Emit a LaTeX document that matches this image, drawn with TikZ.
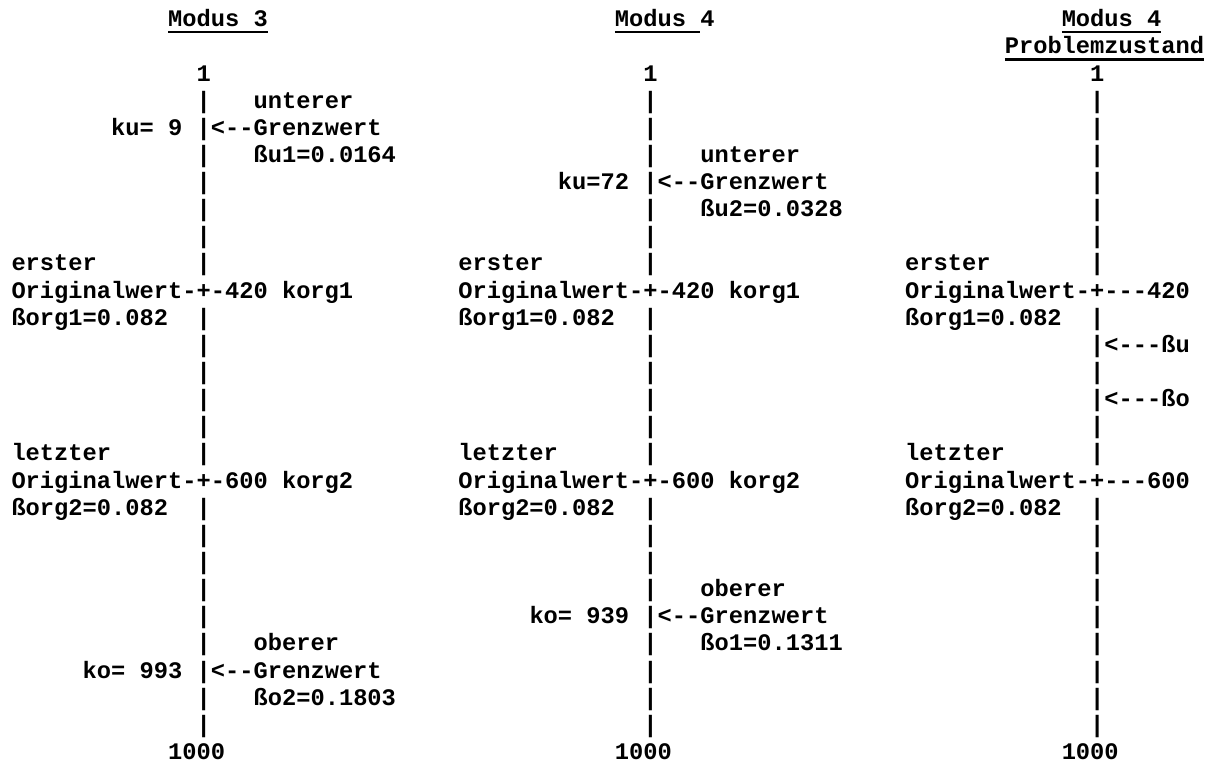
\documentclass[tikz,border=0pt]{standalone}
\usepackage{fontspec}
\setmonofont{Liberation Mono}
\newcommand\cw{14.24}
\newcommand\lh{27.14}
% place a text cell at a character column and text row
\newcommand\cell[4]{\node[txt] (#1) at ({#2*\cw},{81+#3*\lh}) {#4};}
\tikzset{
  txt/.style={font=\ttfamily\bfseries\fontsize{23.73}{27.14}\selectfont,
              inner sep=0pt, outer sep=0pt, anchor=base west},
  uline/.style={line width=2.3pt}
}
\begin{document}
\begin{tikzpicture}[x=1pt,y=-1pt]
\useasboundingbox (0,0) rectangle (1214,763);

% ---------------- Modus 3 ----------------
\begin{scope}[xshift=11.5pt]
  \cell{a-title}{11}{-2}{Modus 3}
  \draw[uline] ([yshift=-5.5pt]a-title.base west) -- ([yshift=-5.5pt]a-title.base east);
  \cell{a-top}{13}{0}{1}
  \cell{a-bar1}{13}{1}{|}
  \cell{a-ut}{17}{1}{unterer}
  \cell{a-ku}{7}{2}{ku= 9}
  \cell{a-gu}{13}{2}{|<--Grenzwert}
  \cell{a-bar3}{13}{3}{|}
  \cell{a-bu}{17}{3}{ßu1=0.0164}
  \foreach \r in {4,5,6,7,9,10,11,12,13,14,16,17,18,19,20,21,23,24}
    {\cell{a-bar\r}{13}{\r}{|}}
  \cell{a-e1}{0}{7}{erster}
  \cell{a-o1}{0}{8}{Originalwert-+-420 korg1}
  \cell{a-b1}{0}{9}{ßorg1=0.082}
  \cell{a-l2}{0}{14}{letzter}
  \cell{a-o2}{0}{15}{Originalwert-+-600 korg2}
  \cell{a-b2}{0}{16}{ßorg2=0.082}
  \cell{a-ob}{17}{21}{oberer}
  \cell{a-ko}{5}{22}{ko= 993}
  \cell{a-go}{13}{22}{|<--Grenzwert}
  \cell{a-bo}{17}{23}{ßo2=0.1803}
  \cell{a-end}{11}{25}{1000}
\end{scope}

% ---------------- Modus 4 ----------------
\begin{scope}[xshift=458.3pt]
  \cell{b-title}{11}{-2}{Modus 4}
  \draw[uline] ([yshift=-5.5pt]b-title.base west) -- ++(6*\cw,0);
  \cell{b-top}{13}{0}{1}
  \foreach \r in {1,2,3,5,6,7,9,10,11,12,13,14,16,17,18,19,21,22,23,24}
    {\cell{b-bar\r}{13}{\r}{|}}
  \cell{b-ut}{17}{3}{unterer}
  \cell{b-ku}{7}{4}{ku=72}
  \cell{b-gu}{13}{4}{|<--Grenzwert}
  \cell{b-bu}{17}{5}{ßu2=0.0328}
  \cell{b-e1}{0}{7}{erster}
  \cell{b-o1}{0}{8}{Originalwert-+-420 korg1}
  \cell{b-b1}{0}{9}{ßorg1=0.082}
  \cell{b-l2}{0}{14}{letzter}
  \cell{b-o2}{0}{15}{Originalwert-+-600 korg2}
  \cell{b-b2}{0}{16}{ßorg2=0.082}
  \cell{b-ob}{17}{19}{oberer}
  \cell{b-ko}{5}{20}{ko= 939}
  \cell{b-go}{13}{20}{|<--Grenzwert}
  \cell{b-bo}{17}{21}{ßo1=0.1311}
  \cell{b-end}{11}{25}{1000}
\end{scope}

% ---------------- Modus 4, Problemzustand ----------------
\begin{scope}[xshift=905.1pt]
  \cell{c-title}{11}{-2}{Modus 4}
  \draw[uline] ([yshift=-5.5pt]c-title.base west) -- ([yshift=-5.5pt]c-title.base east);
  \cell{c-sub}{7}{-1}{Problemzustand}
  \draw[uline] ([yshift=-5.5pt]c-sub.base west) -- ([yshift=-5.5pt]c-sub.base east);
  \cell{c-top}{13}{0}{1}
  \foreach \r in {1,2,3,4,5,6,7,9,11,13,14,16,17,18,19,20,21,22,23,24}
    {\cell{c-bar\r}{13}{\r}{|}}
  \cell{c-e1}{0}{7}{erster}
  \cell{c-o1}{0}{8}{Originalwert-+---420}
  \cell{c-b1}{0}{9}{ßorg1=0.082}
  \cell{c-bu}{13}{10}{|<---ßu}
  \cell{c-bo}{13}{12}{|<---ßo}
  \cell{c-l2}{0}{14}{letzter}
  \cell{c-o2}{0}{15}{Originalwert-+---600}
  \cell{c-b2}{0}{16}{ßorg2=0.082}
  \cell{c-end}{11}{25}{1000}
\end{scope}
\end{tikzpicture}
\end{document}
